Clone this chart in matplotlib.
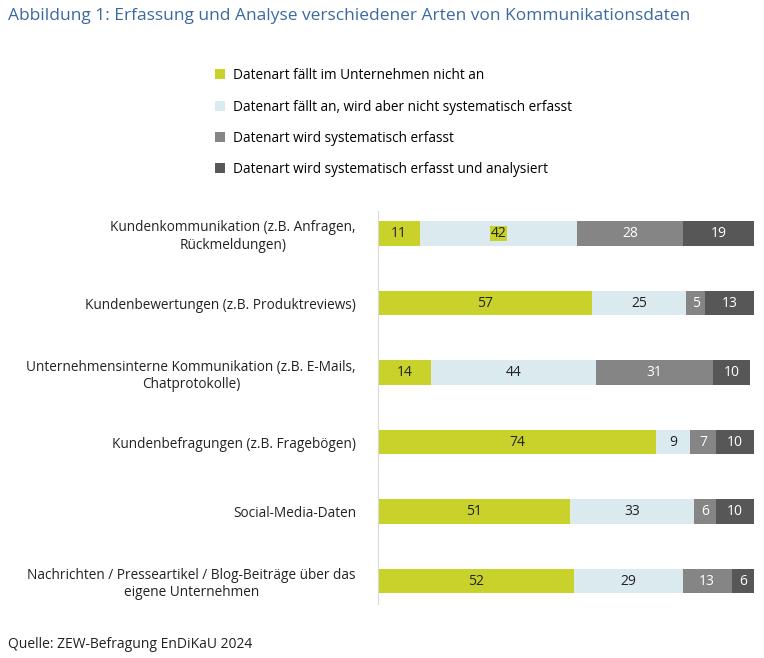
import matplotlib
matplotlib.use("Agg")
import matplotlib.pyplot as plt
import numpy as np

plt.rcParams['font.family'] = ['Open Sans', 'DejaVu Sans']

categories = ["Kundenkommunikation (z.B. Anfragen,\nRückmeldungen)",
              "Kundenbewertungen (z.B. Produktreviews)",
              "Unternehmensinterne Kommunikation (z.B. E-Mails,\nChatprotokolle)",
              "Kundenbefragungen (z.B. Fragebögen)",
              "Social-Media-Daten",
              "Nachrichten / Presseartikel / Blog-Beiträge über das\neigene Unternehmen"]
series_names = ["Datenart fällt im Unternehmen nicht an",
                "Datenart fällt an, wird aber nicht systematisch erfasst",
                "Datenart wird systematisch erfasst",
                "Datenart wird systematisch erfasst und analysiert"]
nicht_an = [11, 57, 14, 74, 51, 52]
nicht_systematisch = [42, 25, 44, 9, 33, 29]
systematisch = [28, 5, 31, 7, 6, 13]
analysiert = [19, 13, 10, 10, 10, 6]
colors = ["#c8d22a", "#daeaef", "#858585", "#575757"]
text_colors = ["#222222", "#222222", "white", "white"]

fig = plt.figure(figsize=(7.64, 6.58), dpi=100)
ax = fig.add_axes([0.495, 0.064, 0.492, 0.634])
y = np.arange(len(categories))
left = np.zeros(len(categories))
for si, vals in enumerate([nicht_an, nicht_systematisch, systematisch, analysiert]):
    vals = np.array(vals, dtype=float)
    ax.barh(y, vals, left=left, height=0.35, color=colors[si], label=series_names[si])
    for i, v in enumerate(vals):
        kw = {}
        if si == 1 and i == 0:
            kw['bbox'] = dict(boxstyle='square,pad=0.02', fc=colors[0], ec='none')
        ax.text(left[i] + v / 2, y[i], f"{int(v)}", ha='center', va='center',
                fontsize=10, color=text_colors[si], **kw)
    left += vals

ax.set_xlim(0, 100)
ax.set_ylim(5.5, -0.5)
ax.set_yticks(y)
ax.set_yticklabels(categories, fontsize=9.8, multialignment='center', color='#222222')
ax.tick_params(axis='y', length=0, pad=16)
ax.set_xticks([])
for s in ['top', 'right', 'bottom']:
    ax.spines[s].set_visible(False)
ax.spines['left'].set_color('#d9d9d9')
ax.spines['left'].set_bounds(-0.33, 5.33)

fig.legend(loc='upper left', bbox_to_anchor=(0.265, 0.915), frameon=False,
           fontsize=9.8, handlelength=0.75, handleheight=0.75, labelspacing=1.2,
           handletextpad=0.6)
fig.text(0.01, 0.975, "Abbildung 1: Erfassung und Analyse verschiedener Arten von Kommunikationsdaten",
         fontsize=12.5, color='#3b6aa0', va='center')
fig.text(0.01, 0.02, "Quelle: ZEW-Befragung EnDiKaU 2024", fontsize=10, color='#222222', va='center')
fig.savefig("out.png", dpi=100)
